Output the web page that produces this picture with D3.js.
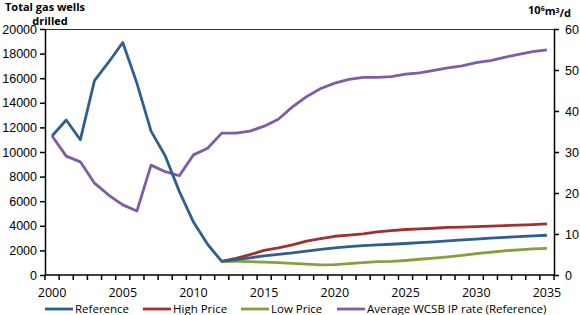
<!DOCTYPE html>
<html>
<head>
<meta charset="utf-8">
<script src="https://cdn.jsdelivr.net/npm/d3@7"></script>
<style>
  body { margin: 0; background: #fff; }
  svg { font-family: "Open Sans", sans-serif; }
</style>
</head>
<body>
<div id="chart"></div>
<script>
const years = d3.range(2000, 2036);
const projYears = d3.range(2012, 2036);

// wells drilled (left axis)
const reference = [11300, 12600, 11000, 15800, 17300, 18900, 15600, 11700, 9700, 6800,
  4300, 2500, 1100, 1250, 1400, 1550, 1680, 1800, 1950, 2080, 2200, 2300, 2380, 2450,
  2500, 2560, 2630, 2700, 2780, 2850, 2920, 2990, 3060, 3120, 3180, 3230];
const highPrice = [1100, 1350, 1650, 2000, 2200, 2450, 2750, 2950, 3150, 3250, 3350, 3500,
  3600, 3700, 3750, 3800, 3870, 3900, 3930, 3970, 4020, 4060, 4100, 4150];
const lowPrice = [1100, 1100, 1080, 1050, 1000, 950, 880, 820, 850, 920, 1000, 1080,
  1100, 1180, 1280, 1380, 1480, 1600, 1730, 1850, 1970, 2050, 2120, 2170];
// average IP rate, 10^6 m3/d (right axis)
const ipRate = [33.9, 29.0, 27.6, 22.4, 19.5, 17.1, 15.6, 26.8, 25.2, 24.2,
  29.3, 30.9, 34.6, 34.6, 35.1, 36.3, 38.0, 41.0, 43.5, 45.5, 46.8, 47.7, 48.2, 48.2,
  48.4, 49.0, 49.3, 49.9, 50.5, 51.0, 51.8, 52.3, 53.1, 53.8, 54.5, 54.9];

const leftTicks = d3.range(0, 20001, 2000);
const rightTicks = d3.range(0, 61, 10);
const yearLabels = [2000, 2005, 2010, 2015, 2020, 2025, 2030, 2035];

const width = 580, height = 315;
const margin = { top: 29, right: 26, bottom: 40, left: 45 };

const svg = d3.select("#chart").append("svg")
  .attr("width", width)
  .attr("height", height);

const x = d3.scaleBand().domain(years).range([margin.left, width - margin.right]);
const xc = d => x(d) + x.bandwidth() / 2;
const yL = d3.scaleLinear().domain([0, 20000]).range([height - margin.bottom, margin.top]);
const yR = d3.scaleLinear().domain([0, 60]).range([height - margin.bottom, margin.top]);

// top border
svg.append("line")
  .attr("x1", margin.left).attr("x2", width - margin.right)
  .attr("y1", margin.top + 0.5).attr("y2", margin.top + 0.5)
  .attr("stroke", "#333").attr("stroke-width", 1);

const leftAxis = svg.append("g")
  .attr("transform", `translate(${margin.left},0)`)
  .call(d3.axisLeft(yL).tickValues(leftTicks).tickFormat(d3.format("d"))
    .tickSize(5).tickSizeOuter(0).tickPadding(3));

const rightAxis = svg.append("g")
  .attr("transform", `translate(${width - margin.right},0)`)
  .call(d3.axisRight(yR).tickValues(rightTicks).tickSize(5).tickSizeOuter(0).tickPadding(6));

// category axis: ticks between years
const xAxis = svg.append("g")
  .attr("transform", `translate(0,${height - margin.bottom})`);
xAxis.append("line")
  .attr("x1", margin.left).attr("x2", width - margin.right)
  .attr("stroke", "#000").attr("stroke-width", 1.5);
xAxis.selectAll("line.tk")
  .data(years.concat([2036]))
  .join("line")
  .attr("class", "tk")
  .attr("x1", d => d === 2036 ? width - margin.right : x(d))
  .attr("x2", d => d === 2036 ? width - margin.right : x(d))
  .attr("y1", 0).attr("y2", 5)
  .attr("stroke", "#000").attr("stroke-width", 1.5);
xAxis.selectAll("text")
  .data(yearLabels)
  .join("text")
  .attr("x", d => xc(d))
  .attr("y", 18)
  .attr("dy", "0.35em")
  .attr("text-anchor", "middle")
  .style("font-size", "12.5px")
  .text(d => d);

[leftAxis, rightAxis].forEach(g => {
  g.select(".domain").attr("stroke", "#000").attr("stroke-width", 1.5);
  g.selectAll(".tick line").attr("stroke", "#000").attr("stroke-width", 1.5);
  g.selectAll(".tick text").style("font-size", "12.5px").attr("fill", "#000");
});

// axis titles
svg.append("text")
  .attr("x", 45).attr("y", 7).attr("dy", "0.35em")
  .attr("text-anchor", "middle")
  .style("font-size", "11px").style("font-weight", "bold")
  .text("Total gas wells");
svg.append("text")
  .attr("x", 50).attr("y", 21).attr("dy", "0.35em")
  .attr("text-anchor", "middle")
  .style("font-size", "11px").style("font-weight", "bold")
  .text("drilled");

const unit = svg.append("text")
  .attr("x", 571).attr("y", 10).attr("dy", "0.35em")
  .attr("text-anchor", "end")
  .style("font-size", "11px").style("font-weight", "bold");
unit.append("tspan").text("10");
unit.append("tspan").attr("dy", "-0.4em").style("font-size", "7px").text("6");
unit.append("tspan").attr("dy", "0.4em").text("m");
unit.append("tspan").attr("dy", "-0.4em").style("font-size", "7px").text("3");
unit.append("tspan").attr("dy", "0.4em").text("/d");

const series = [
  { name: "Reference", color: "#2F5F8F", xs: years, vals: reference, y: yL },
  { name: "High Price", color: "#A2302E", xs: projYears, vals: highPrice, y: yL },
  { name: "Low Price", color: "#84A23C", xs: projYears, vals: lowPrice, y: yL },
  { name: "Average WCSB IP rate (Reference)", color: "#7F5BA8", xs: years, vals: ipRate, y: yR }
];

const drawOrder = [series[3], series[1], series[2], series[0]];
drawOrder.forEach(s => {
  const line = d3.line()
    .x((d, i) => xc(s.xs[i]))
    .y(d => s.y(d));
  svg.append("path")
    .datum(s.vals)
    .attr("fill", "none")
    .attr("stroke", s.color)
    .attr("stroke-width", 2.8)
    .attr("stroke-linejoin", "round")
    .attr("d", line);
});

// legend
const legendX = [45, 143, 241, 337];
const legend = svg.append("g").attr("transform", "translate(0,309)");
series.forEach((s, i) => {
  legend.append("line")
    .attr("x1", legendX[i]).attr("x2", legendX[i] + 28)
    .attr("stroke", s.color).attr("stroke-width", 2.8);
  legend.append("text")
    .attr("x", legendX[i] + 30)
    .attr("dy", "0.35em")
    .style("font-size", "11.5px")
    .text(s.name);
});
</script>
</body>
</html>
